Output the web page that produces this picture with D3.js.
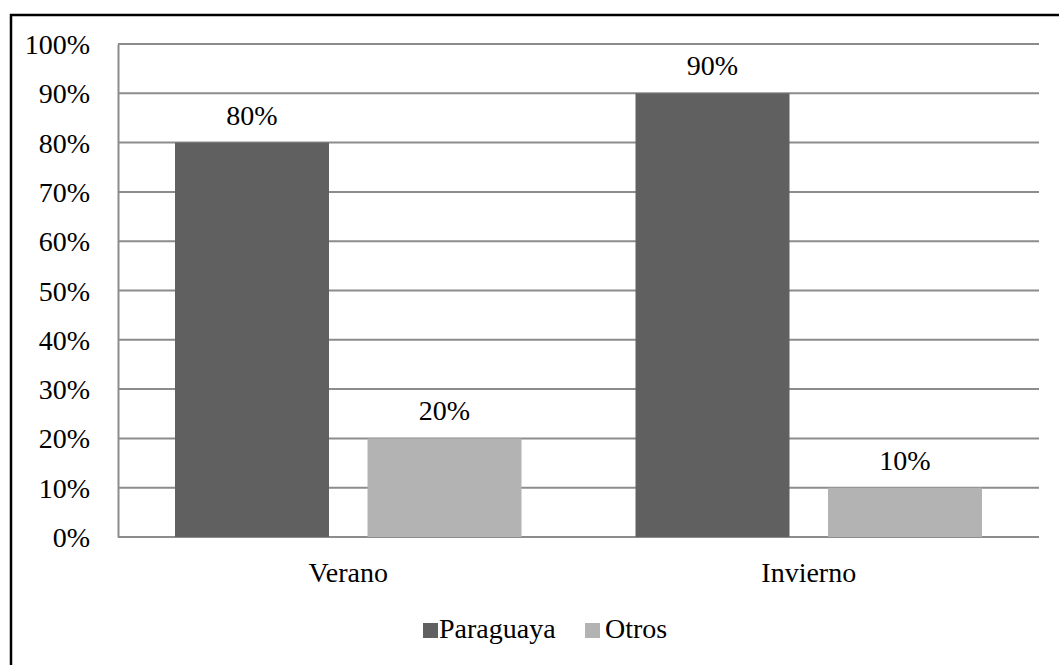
<!DOCTYPE html>
<html>
<head>
<meta charset="utf-8">
<script src="https://cdn.jsdelivr.net/npm/d3@7"></script>
<style>
  body { margin: 0; background: #fff; }
  text { font-family: "Liberation Serif", "Times New Roman", serif; fill: #000; }
</style>
</head>
<body>
<div class="chart"></div>
<script>
var categories = ["Verano", "Invierno"];
var seriesNames = ["Paraguaya", "Otros"];
var paraguaya = [0.8, 0.9];
var otros = [0.2, 0.1];
var yTicks = [0, 0.1, 0.2, 0.3, 0.4, 0.5, 0.6, 0.7, 0.8, 0.9, 1];
var colors = ["#606060", "#b3b3b3"];

var width = 1059, height = 665;
var fontSize = 28;

var data = categories.map(function (c, i) {
  return { cat: c, values: [paraguaya[i], otros[i]] };
});

var svg = d3.select(".chart").append("svg")
    .attr("width", width)
    .attr("height", height);

// outer frame, cut by the picture on the right and bottom
svg.append("rect")
    .attr("x", 11).attr("y", 15)
    .attr("width", 1100).attr("height", 700)
    .attr("fill", "none")
    .attr("stroke", "#000")
    .attr("stroke-width", 2.5);

var plotLeft = 118, plotRight = 1039, plotTop = 44, plotBottom = 537;

var x0 = d3.scaleBand().domain(categories).range([plotLeft, plotRight]).padding(0);
var outer = 57;
var x1 = d3.scaleBand().domain(seriesNames)
    .range([outer, x0.bandwidth() - outer])
    .paddingInner(0.2).paddingOuter(0);
var y = d3.scaleLinear().domain([0, 1]).range([plotBottom, plotTop]);

// gridlines
svg.append("g").selectAll("line")
    .data(yTicks)
    .enter().append("line")
    .attr("x1", plotLeft).attr("x2", plotRight)
    .attr("y1", function (d) { return y(d); })
    .attr("y2", function (d) { return y(d); })
    .attr("stroke", "#8c8c8c")
    .attr("stroke-width", 2);

// y axis
var yAxis = d3.axisLeft(y).tickValues(yTicks).tickSize(0).tickPadding(28)
    .tickFormat(d3.format(".0%"));
var gy = svg.append("g").attr("transform", "translate(" + plotLeft + ",0)").call(yAxis);
gy.select(".domain").attr("stroke", "#8c8c8c").attr("stroke-width", 2);
gy.selectAll("text").style("font-size", fontSize + "px")
    .style("font-family", "'Liberation Serif', 'Times New Roman', serif")
    .attr("fill", "#000").attr("dy", "0.34em");

// bars
var groups = svg.append("g").selectAll("g")
    .data(data)
    .enter().append("g")
    .attr("transform", function (d) { return "translate(" + x0(d.cat) + ",0)"; });

groups.selectAll("rect")
    .data(function (d) { return d.values.map(function (v, i) { return { s: seriesNames[i], v: v, i: i }; }); })
    .enter().append("rect")
    .attr("x", function (d) { return x1(d.s); })
    .attr("y", function (d) { return y(d.v); })
    .attr("width", x1.bandwidth())
    .attr("height", function (d) { return y(0) - y(d.v); })
    .attr("fill", function (d) { return colors[d.i]; });

groups.selectAll("text")
    .data(function (d) { return d.values.map(function (v, i) { return { s: seriesNames[i], v: v }; }); })
    .enter().append("text")
    .attr("x", function (d) { return x1(d.s) + x1.bandwidth() / 2; })
    .attr("y", function (d) { return y(d.v) - 18; })
    .attr("text-anchor", "middle")
    .style("font-size", fontSize + "px")
    .text(function (d) { return d3.format(".0%")(d.v); });

// category labels
svg.append("g").selectAll("text")
    .data(categories)
    .enter().append("text")
    .attr("x", function (d) { return x0(d) + x0.bandwidth() / 2; })
    .attr("y", 582)
    .attr("text-anchor", "middle")
    .style("font-size", fontSize + "px")
    .text(function (d) { return d; });

// legend
var legendX = [423, 585];
var legend = svg.append("g").selectAll("g")
    .data(seriesNames)
    .enter().append("g")
    .attr("transform", function (d, i) { return "translate(" + legendX[i] + ",623)"; });
legend.append("rect")
    .attr("width", 15).attr("height", 15)
    .attr("fill", function (d, i) { return colors[i]; });
legend.append("text")
    .attr("x", function (d, i) { return i == 0 ? 16 : 20; })
    .attr("y", 15)
    .style("font-size", fontSize + "px")
    .text(function (d) { return d; });
</script>
</body>
</html>
